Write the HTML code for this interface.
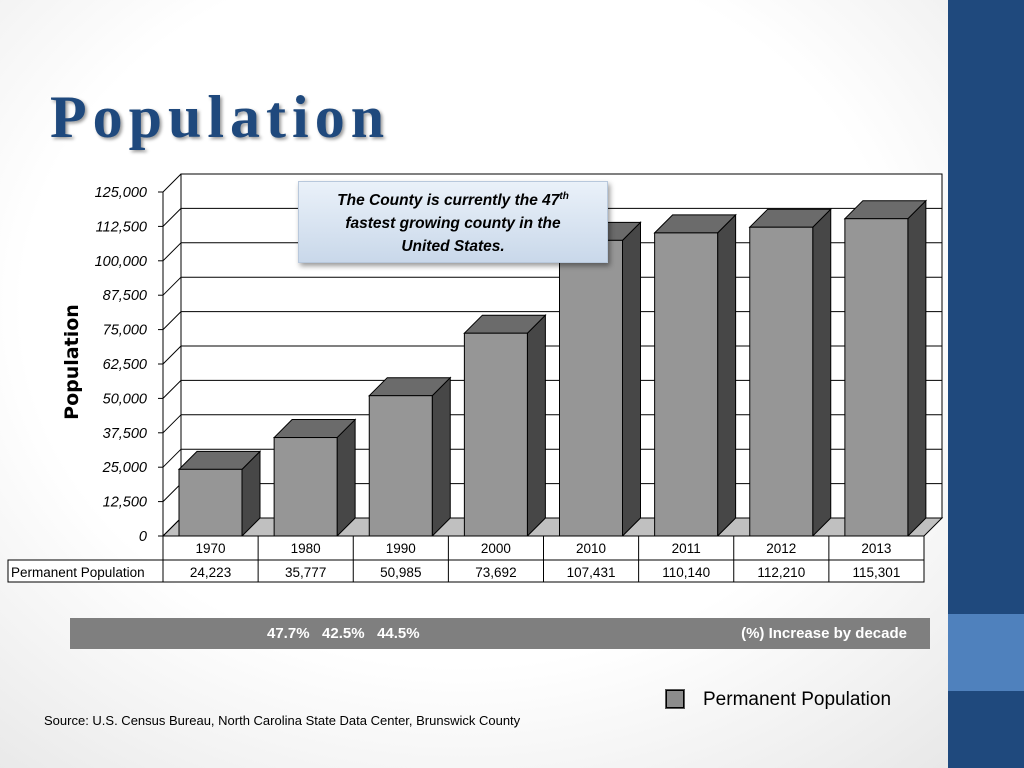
<!DOCTYPE html>
<html><head><meta charset="utf-8"><style>
body{margin:0;width:1024px;height:768px;overflow:hidden;font-family:"Liberation Sans",sans-serif;}
#bg{position:absolute;left:0;top:0;width:1024px;height:768px;background:radial-gradient(ellipse at 45% 40%,#ffffff 55%,#e4e4e4 100%);}
</style></head><body>
<div id="bg"></div>
<div style="position:absolute;left:948px;top:0;width:76px;height:768px;background:#1f497d"></div>
<div style="position:absolute;left:948px;top:614px;width:76px;height:77px;background:#4f81bd"></div>
<div style="position:absolute;left:50px;top:83px;font-family:'Liberation Serif',serif;font-size:60px;font-weight:bold;color:#1f497d;letter-spacing:6px;text-shadow:2px 2px 3px #999">Population</div>
<svg id="chart" width="1024" height="768" style="position:absolute;left:0;top:0" xmlns="http://www.w3.org/2000/svg"></svg>
<div style="position:absolute;left:298px;top:181px;width:310px;height:82px;background:linear-gradient(#eaf1f9,#c9d8ea);border:1px solid #b8c8dc;box-shadow:2px 3px 5px rgba(0,0,0,.4);font-family:'Liberation Sans',sans-serif;font-style:italic;font-weight:bold;font-size:15.5px;line-height:23px;text-align:center;padding-top:3px;box-sizing:border-box">The County is currently the 47<sup style="font-size:10px">th</sup><br>fastest growing county in the<br>United States.</div>
<div style="position:absolute;left:70px;top:618px;width:860px;height:31px;background:#7f7f7f;color:#fff;font-weight:bold;font-size:15px">
<span style="position:absolute;left:197px;top:7px;white-space:pre">47.7%   42.5%   44.5%</span>
<span style="position:absolute;right:23px;top:7px">(%) Increase by decade</span></div>
<div style="position:absolute;left:666px;top:690px;width:16px;height:16px;background:#8c8c8c;border:1px solid #000;box-shadow:0 0 0 1px #555"></div>
<div style="position:absolute;left:703px;top:689px;font-size:19px">Permanent Population</div>
<div style="position:absolute;left:44px;top:713px;font-size:13px">Source: U.S. Census Bureau, North Carolina State Data Center, Brunswick County</div>
<script>
const categories=["1970","1980","1990","2000","2010","2011","2012","2013"];
const values=[24223,35777,50985,73692,107431,110140,112210,115301];
const valueLabels=["24,223","35,777","50,985","73,692","107,431","110,140","112,210","115,301"];
const tickValues=[0,12500,25000,37500,50000,62500,75000,87500,100000,112500,125000];
const tickLabels=["0","12,500","25,000","37,500","50,000","62,500","75,000","87,500","100,000","112,500","125,000"];
const svg=document.getElementById('chart');const NS="http://www.w3.org/2000/svg";
const X0=163,X1=924,Y0=536,Y1=192,D=18,MAX=125000;
const y=v=>Y0-(v/MAX)*(Y0-Y1);
const band=(X1-X0)/categories.length;
const x=i=>X0+i*band;
function el(t,a,p){const e=document.createElementNS(NS,t);for(const k in a)e.setAttribute(k,a[k]);(p||svg).appendChild(e);return e;}
let w=el('rect',{x:X0+D,y:Y1-D,width:X1-X0,height:Y0-Y1,fill:'#fff',stroke:'#000','stroke-width':1});

let f=el('polygon',{points:`${X0},${Y0} ${X0+D},${Y0-D} ${X1+D},${Y0-D} ${X1},${Y0}`,fill:'#c0c0c0',stroke:'#000','stroke-width':1});

tickValues.forEach((t,i)=>{const yy=y(t);
 if(t>0){const g=el('line',{x1:X0+D,y1:yy-D,x2:X1+D,y2:yy-D,stroke:'#000','stroke-width':1});
 }
 const d=el('line',{x1:X0,y1:yy,x2:X0+D,y2:yy-D,stroke:'#000','stroke-width':1});
 
 const tk=el('line',{x1:X0-5,y1:yy,x2:X0,y2:yy,stroke:'#000'});
 
 const tl=el('text',{x:X0-16,y:yy+5,'text-anchor':'end','font-size':14.5,'font-style':'italic','font-family':'Liberation Sans'});
 tl.textContent=tickLabels[i];
 });
const ax=el('line',{x1:X0,y1:Y0,x2:X0,y2:Y1,stroke:'#000'});

const yt=el('text',{x:78,y:362,'text-anchor':'middle','font-size':19,'font-weight':'bold','font-family':'DejaVu Sans',transform:'rotate(-90 78 362)'});
yt.textContent='Population';
values.forEach((v,i)=>{const bx=x(i)+16,bw=63,top=y(v);
 const g=el('g',{});
 el('polygon',{points:`${bx+bw},${Y0} ${bx+bw+D},${Y0-D} ${bx+bw+D},${top-D} ${bx+bw},${top}`,fill:'#474747',stroke:'#000'},g);
 el('polygon',{points:`${bx},${top} ${bx+D},${top-D} ${bx+bw+D},${top-D} ${bx+bw},${top}`,fill:'#6b6b6b',stroke:'#000'},g);
 el('rect',{x:bx,y:top,width:bw,height:Y0-top,fill:'#969696',stroke:'#000'},g);});
const tb=el('g',{});
el('rect',{x:X0,y:Y0,width:X1-X0,height:46,fill:'#fff',stroke:'#000'},tb);
el('rect',{x:8,y:560,width:X0-8,height:22,fill:'#fff',stroke:'#000'},tb);
el('line',{x1:X0,y1:560,x2:X1,y2:560,stroke:'#000'},tb);
const lab=el('text',{x:11,y:577,'font-size':13.5},tb);lab.textContent='Permanent Population';
categories.forEach((c,i)=>{if(i>0)el('line',{x1:x(i),y1:Y0,x2:x(i),y2:582,stroke:'#000'},tb);
 const t1=el('text',{x:x(i)+band/2,y:553,'text-anchor':'middle','font-size':13.5},tb);t1.textContent=c;
 
 const t2=el('text',{x:x(i)+band/2,y:577,'text-anchor':'middle','font-size':13.5},tb);t2.textContent=valueLabels[i];
 });
</script>
</body></html>
